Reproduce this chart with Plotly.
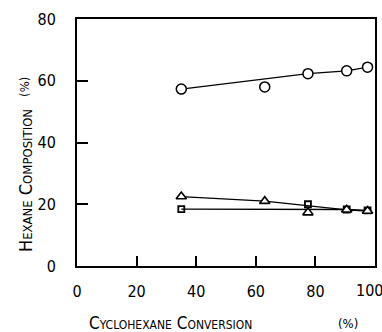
import plotly.graph_objects as go

# Data (x: cyclohexane conversion %, y: hexane composition %)
conv = [35, 63, 77.5, 90.5, 97.5]
circle_y = [57.3, 58.0, 62.3, 63.2, 64.4]
triangle_y = [22.5, 21.0, 17.3, 18.2, 17.8]
square_y = [18.4, None, 20.0, 18.3, 18.0]

# Drawn trend lines (each skips one off-line point)
circle_line_x = [35, 77.5, 90.5, 97.5]
circle_line_y = [57.3, 62.3, 63.2, 64.4]
triangle_line_x = [35, 63, 90.5, 97.5]
triangle_line_y = [22.5, 21.0, 18.2, 17.8]
square_line_x = [35, 90.5, 97.5]
square_line_y = [18.4, 18.3, 18.0]

x_ticks = [0, 20, 40, 60, 80, 100]
x_ticktext = ["0", "20", "40", "60", "80", "100"]
y_ticks = [0, 20, 40, 60, 80]

FONT = "Liberation Sans Narrow, DejaVu Sans Condensed, Liberation Sans, sans-serif"

fig = go.Figure()
for lx, ly in [(circle_line_x, circle_line_y), (triangle_line_x, triangle_line_y), (square_line_x, square_line_y)]:
    fig.add_trace(go.Scatter(x=lx, y=ly, mode="lines", line=dict(color="black", width=1.3), showlegend=False, hoverinfo="skip"))

sq_x = [x for x, y in zip(conv, square_y) if y is not None]
sq_y = [y for y in square_y if y is not None]
fig.add_trace(go.Scatter(x=sq_x, y=sq_y, mode="markers",
                         marker=dict(symbol="square-open", size=6, color="black", line=dict(width=1.8)), showlegend=False))
fig.add_trace(go.Scatter(x=conv, y=triangle_y, mode="markers",
                         marker=dict(symbol="triangle-up", size=9, color="white", line=dict(color="black", width=1.6)), showlegend=False))
fig.add_trace(go.Scatter(x=conv, y=circle_y, mode="markers",
                         marker=dict(symbol="circle", size=10, color="white", line=dict(color="black", width=1.5)), showlegend=False))

tick_font = dict(family=FONT, size=16, color="black")
axis_common = dict(showgrid=False, zeroline=False, showline=True, linecolor="black", linewidth=2,
                   mirror=True, ticks="inside", tickcolor="black", tickwidth=2, automargin=False,
                   ticklabeloverflow="allow", tickfont=tick_font)
# last x label is drawn as an annotation so it can sit inside the figure edge like in the reference
fig.update_xaxes(range=[0, 100], tickvals=x_ticks, ticktext=x_ticktext[:-1] + [""], ticklen=10,
                 ticklabelstandoff=10, **axis_common)
fig.update_yaxes(range=[0, 80], tickvals=y_ticks, ticklen=11, ticklabelstandoff=16, **axis_common)

fig.add_annotation(text=x_ticktext[-1], x=x_ticks[-1], xref="x", y=-0.098, yref="paper",
                   showarrow=False, xanchor="center", yanchor="middle", xshift=-6, font=tick_font)

pct_font = dict(family=FONT, size=13, color="black")
common_ann = dict(xref="paper", yref="paper", showarrow=False, xanchor="center", yanchor="middle")
fig.add_annotation(text="Cyclohexane Conversion", x=0.315, y=-0.231,
                   font=dict(family=FONT, size=17, color="black", variant="small-caps"), **common_ann)
fig.add_annotation(text="(%)", x=0.91, y=-0.231, font=pct_font, **common_ann)
fig.add_annotation(text="Hexane Composition", x=-0.1745, y=0.348, textangle=-90,
                   font=dict(family=FONT, size=18, color="black", variant="small-caps"), **common_ann)
fig.add_annotation(text="(%)", x=-0.1745, y=0.725, textangle=-90, font=pct_font, **common_ann)

fig.update_layout(width=382, height=332, margin=dict(l=77, r=7, t=19, b=66),
                  paper_bgcolor="white", plot_bgcolor="white")
fig.write_html("out.html")
